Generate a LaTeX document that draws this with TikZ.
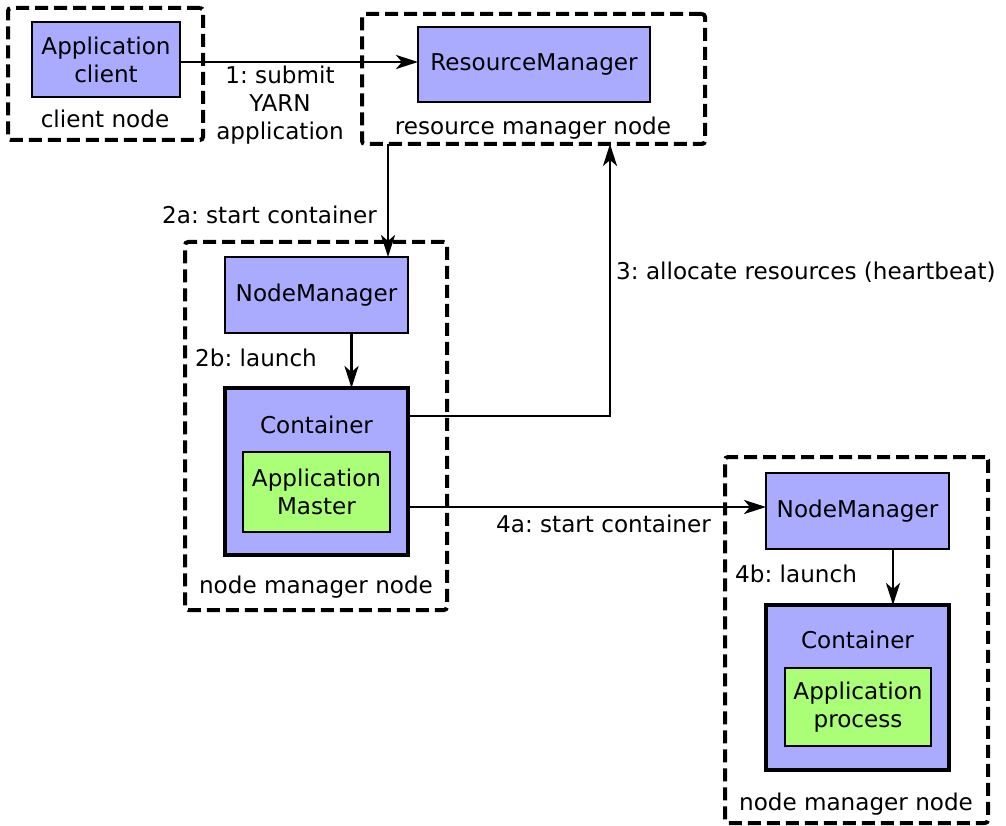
\documentclass[tikz,border=0pt]{standalone}
\usepackage{fontspec}
\setmainfont{DejaVu Sans}
\usetikzlibrary{arrows.meta}
\definecolor{boxblue}{RGB}{170,170,255}
\definecolor{boxgreen}{RGB}{170,255,119}
\newcommand\lbl{\fontsize{23.1}{28}\selectfont\frenchspacing}
\tikzset{
  host/.style={draw, line width=4pt, dash pattern=on 13pt off 6pt, rounded corners=3pt,
    inner sep=0, outer sep=0, anchor=north west},
  comp/.style={draw, fill=boxblue, line width=2.5pt, inner sep=0, outer sep=0,
    anchor=north west, font=\lbl, align=center},
  cont/.style={draw, fill=boxblue, line width=4pt, inner sep=0, outer sep=0, anchor=north west},
  proc/.style={draw, fill=boxgreen, line width=2.8pt, inner sep=0, outer sep=0,
    anchor=north west, font=\lbl, align=center},
  txt/.style={inner sep=0, font=\lbl, align=center, text height=17pt, text depth=0pt},
  multitxt/.style={inner sep=0, font=\lbl, align=center},
  arr/.style={line width=2.8pt, -{Stealth[length=22pt, width=14pt, inset=6pt]}},
}
\begin{document}
\begin{tikzpicture}[x=1pt, y=-1pt]
\useasboundingbox (0,0) rectangle (1006,826);

% machines
\node[host, minimum width=195pt, minimum height=132pt] (clientHost) at (8,8) {};
\node[host, minimum width=343pt, minimum height=130pt] (rmHost) at (362,14) {};
\node[host, minimum width=262pt, minimum height=368pt] (nmHostA) at (185,242) {};
\node[host, minimum width=263pt, minimum height=366pt] (nmHostB) at (725,457) {};

\node[txt] (clientLbl) at (105,119) {client node};
\node[txt] (rmLbl) at (533,126) {resource manager node};
\node[txt] (nmLblA) at (316,585) {node manager node};
\node[txt] (nmLblB) at (856,802) {node manager node};

% daemons and containers
\node[comp, minimum width=148pt, minimum height=75pt] (appClient) at (32,22) {Application\\client};
\node[comp, minimum width=232pt, minimum height=75pt] (rm) at (418,27) {ResourceManager};
\node[comp, minimum width=183pt, minimum height=76pt] (nmA) at (225,257) {NodeManager};
\node[cont, minimum width=183pt, minimum height=167pt] (contA) at (225,388) {};
\node[txt] (contLblA) at (316.5,425) {Container};
\node[proc, minimum width=147pt, minimum height=80pt] (am) at (243,452) {Application\\Master};

\node[comp, minimum width=183pt, minimum height=76pt] (nmB) at (766,473) {NodeManager};
\node[cont, minimum width=183pt, minimum height=165pt] (contB) at (766,605) {};
\node[txt] (contLblB) at (857.5,640) {Container};
\node[proc, minimum width=146pt, minimum height=78pt] (ap) at (785,668) {Application\\process};

% messages
\draw[arr] ([yshift=-2.5pt]appClient.east) -- ([yshift=-2.5pt]appClient.east -| rm.west);
\node[multitxt] (l1) at (280,105) {1: submit\\YARN\\application};

\draw[arr] ([xshift=-20pt]nmA.north east |- rmHost.south) -- ([xshift=-20pt]nmA.north east);
\node[txt, anchor=east] (l2a) at (377,215) {2a: start container};

\draw[arr] ([xshift=35pt]nmA.south) -- ([xshift=35pt]contA.north);
\node[txt, anchor=west] (l2b) at (195,358) {2b: launch};

\draw[arr] ([yshift=55.5pt]contA.east) -| ([xshift=76.5pt]rmHost.south);
\node[txt, anchor=west] (l3) at (616,271) {3: allocate resources (heartbeat)};

\draw[arr] ([yshift=-35.5pt]contA.east) -- ([yshift=-35.5pt]contA.east -| nmB.west);
\node[txt, anchor=east] (l4a) at (711,524) {4a: start container};

\draw[arr] ([xshift=35.5pt]nmB.south) -- ([xshift=35.5pt]contB.north);
\node[txt, anchor=west] (l4b) at (735,574) {4b: launch};
\end{tikzpicture}
\end{document}
